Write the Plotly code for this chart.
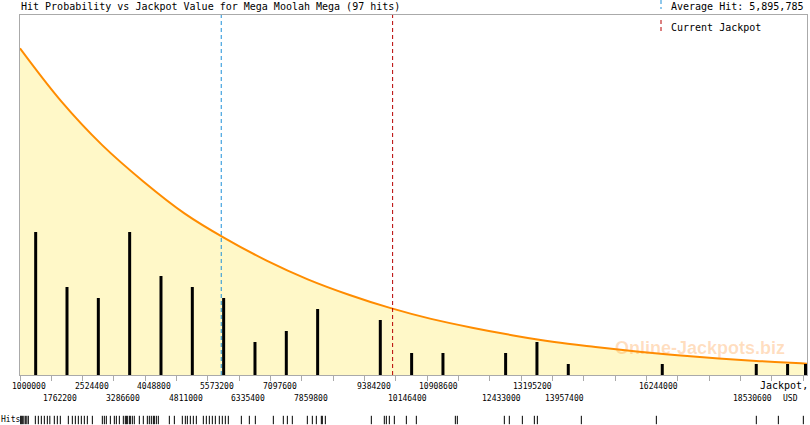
import plotly.graph_objects as go

# ---------------- data ----------------
TITLE = "Hit Probability vs Jackpot Value for Mega Moolah Mega (97 hits)"
AVERAGE_HIT = 5895785
CURRENT_JACKPOT = 10065000

BIN_START = 1000000
BIN_WIDTH = 762200
BIN_COUNTS = [13, 8, 7, 13, 9, 8, 7, 3, 4, 6, 0, 5, 2, 2, 0, 2, 3, 1, 0, 0, 1, 0, 0, 1, 1, 1]

HIT_VALUES = [
    1008000, 1032000, 1057000, 1093000, 1130000, 1166000, 1203000,
    1373000, 1446000, 1519000, 1592000, 1665000, 1726000,
    1835000, 1908000, 1981000, 2176000, 2273000, 2346000, 2419000, 2492000,
    2565000, 2638000, 2760000, 3003000, 3052000, 3100000, 3198000,
    3295000, 3344000, 3417000, 3514000, 3562000, 3587000, 3611000, 3660000,
    3684000, 3733000, 3781000, 3903000, 4000000,
    4098000, 4146000, 4195000, 4244000, 4268000, 4317000, 4365000, 4633000, 4755000,
    4949000, 5022000, 5071000, 5144000, 5217000, 5290000, 5460000, 5533000,
    5606000, 5679000, 5752000, 5849000, 5922000, 5995000, 6068000,
    6385000, 6579000, 6725000,
    7163000, 7406000, 7504000, 7625000,
    7990000, 8112000, 8209000, 8331000, 8355000, 8428000,
    9547000, 9863000, 9912000, 9985000, 10107000,
    10399000, 10642000,
    11591000, 11639000,
    12783000, 12904000,
    13221000, 13513000, 13586000,
    14656000,
    16481000,
    18913000,
    19449000,
    20057000,
]

CURVE_X = [1000000, 2000000, 3000000, 4000000, 5000000, 6000000, 7000000,
           8000000, 9000000, 10000000, 11000000, 12000000, 13000000, 14000000,
           15000000, 16000000, 17000000, 18000000, 19000000, 20000000, 20146000]
CURVE_Y = [29.7, 24.9, 20.9, 17.6, 14.7, 12.4, 10.4, 8.7, 7.3, 6.1, 5.1,
           4.3, 3.6, 3.0, 2.55, 2.14, 1.79, 1.51, 1.26, 1.06, 1.03]

LABELS_ROW1 = [1000000, 2524400, 4048800, 5573200, 7097600, 9384200,
               10908600, 13195200, 16244000]
LABELS_ROW2 = [1762200, 3286600, 4811000, 6335400, 7859800, 10146400,
               12433000, 13957400, 18530600]

X_MAX = 20146000
Y_MAX = 32.73

# ---------------- layout helpers ----------------
W, H = 810, 425
ML, MR, MT, MB = 20, 3, 15, 0
PW = W - ML - MR
PH = H - MT - MB
MAIN_BOTTOM = 375


def px_x(px):
    return (px - ML) / PW


def px_y(py):
    return (H - MB - py) / PH


MONO = "DejaVu Sans Mono"
GRAY = "#AAAAAA"
BLUE = "#1E90D8"
RED = "#B80000"
ORANGE = "#FF8C00"
FILL = "#FFF8C8"

bar_half = 1.5 * (X_MAX - BIN_START) / PW
bar_x, bar_y = [], []
for k, c in enumerate(BIN_COUNTS):
    if c > 0:
        cx = BIN_START + (k + 0.5) * BIN_WIDTH
        cx = min(cx, X_MAX - bar_half)
        bar_x += [cx, cx, None]
        bar_y += [0, c, None]

fig = go.Figure()

fig.add_trace(go.Scatter(
    x=CURVE_X, y=CURVE_Y, mode="lines", line=dict(color=ORANGE, width=2, shape="spline"),
    fill="tozeroy", fillcolor=FILL, hoverinfo="skip", showlegend=False))

fig.add_trace(go.Scatter(
    x=bar_x, y=bar_y, mode="lines", line=dict(color="black", width=3),
    hoverinfo="skip", showlegend=False))

fig.add_trace(go.Scatter(
    x=[AVERAGE_HIT, AVERAGE_HIT], y=[0, Y_MAX], mode="lines",
    line=dict(color=BLUE, width=1, dash="4px,3px"), showlegend=False))
fig.add_trace(go.Scatter(
    x=[CURRENT_JACKPOT, CURRENT_JACKPOT], y=[0, Y_MAX], mode="lines",
    line=dict(color=RED, width=1, dash="4px,3px"), showlegend=False))

fig.add_trace(go.Scatter(
    x=HIT_VALUES, y=[0.5] * len(HIT_VALUES), mode="markers", yaxis="y2",
    marker=dict(symbol="line-ns", size=6, line=dict(color="black", width=1)),
    showlegend=False))

tickvals = []
t = BIN_START
while t <= X_MAX:
    tickvals.append(t)
    t += BIN_WIDTH

main_bottom_frac = px_y(MAIN_BOTTOM)

annotations = []
for v in LABELS_ROW1:
    annotations.append(dict(x=v, xref="x", y=px_y(386), yref="paper", text=str(v),
                            showarrow=False, xanchor="left", yanchor="middle", xshift=-10,
                            font=dict(family=MONO, size=8, color="black")))
for v in LABELS_ROW2:
    annotations.append(dict(x=v, xref="x", y=px_y(398), yref="paper", text=str(v),
                            showarrow=False, xanchor="left", yanchor="middle", xshift=-10,
                            font=dict(family=MONO, size=8, color="black")))

annotations += [
    dict(x=px_x(19), y=px_y(7), xref="paper", yref="paper", text=TITLE, showarrow=False,
         xanchor="left", yanchor="middle", font=dict(family=MONO, size=10, color="black")),
    dict(x=px_x(669), y=px_y(7), xref="paper", yref="paper",
         text="Average Hit: {:,}".format(AVERAGE_HIT), showarrow=False,
         xanchor="left", yanchor="middle", font=dict(family=MONO, size=10, color="black")),
    dict(x=px_x(669), y=px_y(27), xref="paper", yref="paper", text="Current Jackpot",
         showarrow=False, xanchor="left", yanchor="middle",
         font=dict(family=MONO, size=10, color="black")),
    dict(x=px_x(810), y=px_y(385), xref="paper", yref="paper", text="Jackpot,",
         showarrow=False, xanchor="right", yanchor="middle",
         font=dict(family=MONO, size=10, color="black")),
    dict(x=px_x(800), y=px_y(398), xref="paper", yref="paper", text="USD",
         showarrow=False, xanchor="right", yanchor="middle",
         font=dict(family=MONO, size=8, color="black")),
    dict(x=px_x(-1), y=px_y(419), xref="paper", yref="paper", text="Hits",
         showarrow=False, xanchor="left", yanchor="middle",
         font=dict(family=MONO, size=8, color="black")),
    dict(x=px_x(700), y=px_y(348), xref="paper", yref="paper", text="Online-Jackpots.biz",
         showarrow=False, xanchor="center", yanchor="middle",
         font=dict(family="Liberation Sans", size=18, color="rgba(255,140,30,0.28)",
                   weight="bold")),
]

shapes = [
    dict(type="line", xref="paper", yref="paper", x0=px_x(661), x1=px_x(661),
         y0=px_y(0), y1=px_y(9), line=dict(color=BLUE, width=1, dash="4px,3px")),
    dict(type="line", xref="paper", yref="paper", x0=px_x(661), x1=px_x(661),
         y0=px_y(20), y1=px_y(32), line=dict(color=RED, width=1, dash="4px,3px")),
]

fig.update_layout(
    width=W, height=H,
    margin=dict(l=ML, r=MR, t=MT, b=MB, pad=0),
    paper_bgcolor="white", plot_bgcolor="white",
    showlegend=False,
    xaxis=dict(range=[BIN_START, X_MAX], tickvals=tickvals, showticklabels=False,
               ticks="outside", ticklen=5, tickcolor=GRAY, tickwidth=1,
               showline=True, linecolor=GRAY, linewidth=1, mirror=True,
               showgrid=False, zeroline=False, anchor="y", fixedrange=True),
    yaxis=dict(range=[0, Y_MAX], domain=[main_bottom_frac, 1], showticklabels=False,
               ticks="", showline=True, linecolor=GRAY, linewidth=1, mirror=True,
               showgrid=False, zeroline=False),
    yaxis2=dict(range=[0, 1], domain=[0, px_y(415)], visible=False, anchor="x",
                showgrid=False, zeroline=False),
    annotations=annotations,
    shapes=shapes,
)

fig.write_html(
    "out.html",
    config={"displayModeBar": False},
    post_script="document.body.style.margin='0';document.body.style.overflow='hidden';",
)
